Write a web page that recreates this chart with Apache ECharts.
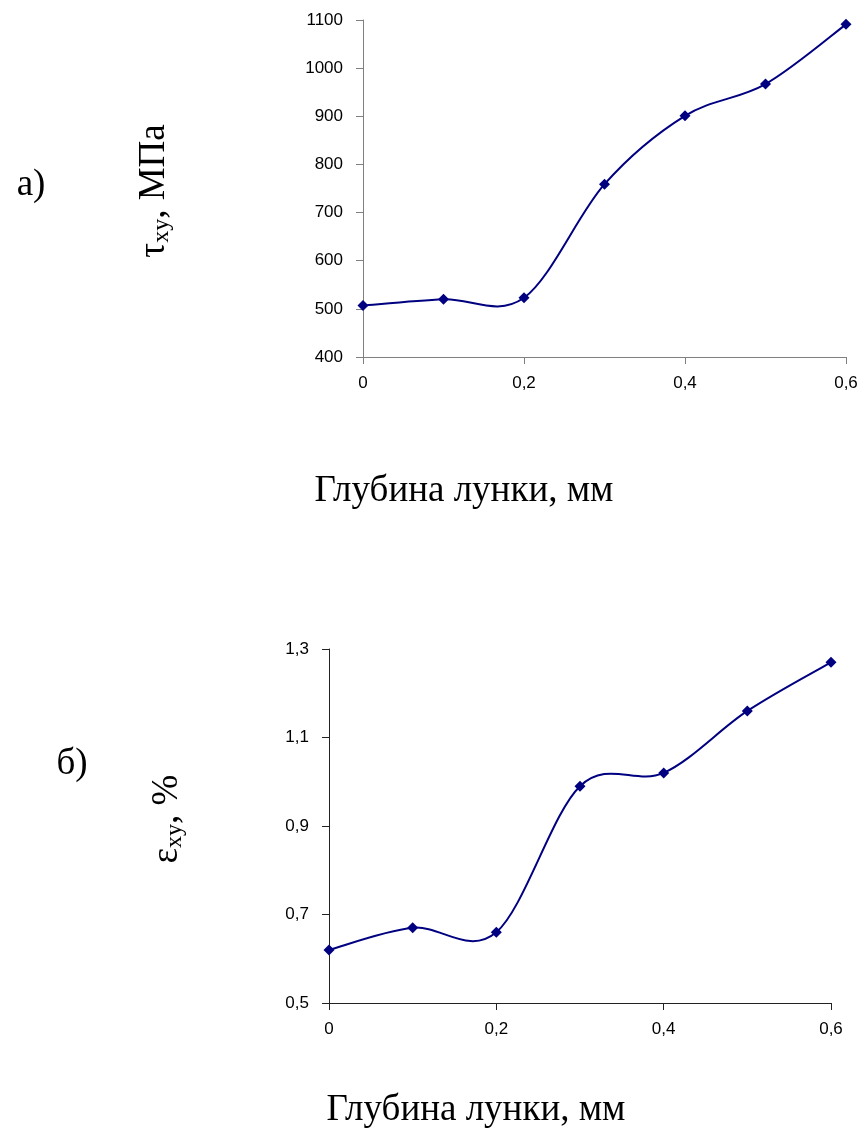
<!DOCTYPE html>
<html>
<head>
<meta charset="utf-8">
<script src="https://cdn.jsdelivr.net/npm/echarts@6/dist/echarts.min.js"></script>
<style>
html,body{margin:0;padding:0;background:#fff;}
#chart{width:865px;height:1129px;}
</style>
</head>
<body>
<div id="chart"></div>
<script>
// Data
var depth = [0, 0.1, 0.2, 0.3, 0.4, 0.5, 0.6];
var tauXY = [507, 520, 523, 759, 901, 967, 1091];
var epsXY = [0.62, 0.67, 0.66, 0.99, 1.02, 1.16, 1.27];
var xTitle = 'Глубина лунки, мм';

function pairs(xs, ys) { return xs.map(function (x, i) { return [x, ys[i]]; }); }
function comma(v) { return String(Math.round(v * 10) / 10).replace('.', ','); }
function plain(v) { return String(v); }

// Excel-like smoothed line (Catmull-Rom Bezier) drawn through the axis scales
function smoothRender(xs, ys) {
  return function (params, api) {
    if (params.dataIndex !== 0) return null;
    var p = xs.map(function (x, i) { return api.coord([x, ys[i]]); });
    var n = p.length, kids = [];
    for (var i = 0; i < n - 1; i++) {
      var p0 = p[Math.max(i - 1, 0)], p1 = p[i], p2 = p[i + 1], p3 = p[Math.min(i + 2, n - 1)];
      kids.push({
        type: 'bezierCurve',
        shape: {
          x1: p1[0], y1: p1[1], x2: p2[0], y2: p2[1],
          cpx1: p1[0] + (p2[0] - p0[0]) / 6, cpy1: p1[1] + (p2[1] - p0[1]) / 6,
          cpx2: p2[0] - (p3[0] - p1[0]) / 6, cpy2: p2[1] - (p3[1] - p1[1]) / 6
        },
        style: {stroke: '#000080', lineWidth: 2, fill: null}
      });
    }
    return {type: 'group', children: kids};
  };
}

var chart = echarts.init(document.getElementById('chart'));
var tickFont = {color: '#000', fontFamily: 'Liberation Sans', fontSize: 17};
var serif = 'Liberation Serif';
var big = 37;

chart.setOption({
  backgroundColor: '#fff',
  animation: false,
  grid: [
    {left: 363, top: 20, width: 483, height: 337},
    {left: 329, top: 649, width: 502, height: 354}
  ],
  xAxis: [
    {gridIndex: 0, type: 'value', min: 0, max: 0.6, interval: 0.2,
     axisLine: {lineStyle: {color: '#808080', width: 1}},
     axisTick: {show: true, length: 7, lineStyle: {color: '#808080'}},
     splitLine: {show: false},
     axisLabel: Object.assign({margin: 18, formatter: comma}, tickFont)},
    {gridIndex: 1, type: 'value', min: 0, max: 0.6, interval: 0.2,
     axisLine: {lineStyle: {color: '#222', width: 1}},
     axisTick: {show: true, length: 7, lineStyle: {color: '#222'}},
     splitLine: {show: false},
     axisLabel: Object.assign({margin: 18, formatter: comma}, tickFont)}
  ],
  yAxis: [
    {gridIndex: 0, type: 'value', min: 400, max: 1100, interval: 100,
     axisLine: {show: true, lineStyle: {color: '#808080', width: 1}},
     axisTick: {show: true, length: 7, lineStyle: {color: '#808080'}},
     splitLine: {show: false},
     axisLabel: Object.assign({margin: 20, formatter: plain}, tickFont)},
    {gridIndex: 1, type: 'value', min: 0.5, max: 1.3, interval: 0.2,
     axisLine: {show: true, lineStyle: {color: '#222', width: 1}},
     axisTick: {show: true, length: 7, lineStyle: {color: '#222'}},
     splitLine: {show: false},
     axisLabel: Object.assign({margin: 20, formatter: comma}, tickFont)}
  ],
  series: [
    {type: 'custom', xAxisIndex: 0, yAxisIndex: 0, data: pairs(depth, tauXY),
     renderItem: smoothRender(depth, tauXY), silent: true, z: 2},
    {type: 'scatter', xAxisIndex: 0, yAxisIndex: 0, data: pairs(depth, tauXY),
     symbol: 'diamond', symbolSize: 11, itemStyle: {color: '#000080', opacity: 1}, z: 3},
    {type: 'custom', xAxisIndex: 1, yAxisIndex: 1, data: pairs(depth, epsXY),
     renderItem: smoothRender(depth, epsXY), silent: true, z: 2},
    {type: 'scatter', xAxisIndex: 1, yAxisIndex: 1, data: pairs(depth, epsXY),
     symbol: 'diamond', symbolSize: 11, itemStyle: {color: '#000080', opacity: 1}, z: 3}
  ],
  graphic: [
    {type: 'text', x: 31, y: 185, style: {text: 'а)', fontFamily: serif, fontSize: big, fill: '#000', align: 'center', verticalAlign: 'middle'}},
    {type: 'text', x: 72, y: 764, style: {text: 'б)', fontFamily: serif, fontSize: big, fill: '#000', align: 'center', verticalAlign: 'middle'}},
    {type: 'text', x: 464, y: 491, style: {text: xTitle, fontFamily: serif, fontSize: big, fill: '#000', align: 'center', verticalAlign: 'middle'}},
    {type: 'text', x: 476, y: 1110, style: {text: xTitle, fontFamily: serif, fontSize: big, fill: '#000', align: 'center', verticalAlign: 'middle'}},
    {type: 'text', x: 154, y: 191, rotation: Math.PI / 2,
     style: {text: '{a|τ}{s|xy}{a|, МПа}', align: 'center', verticalAlign: 'middle', fill: '#000',
       rich: {a: {fontFamily: serif, fontSize: big, lineHeight: 40, fill: '#000'},
              s: {fontFamily: serif, fontSize: 24, lineHeight: 24, verticalAlign: 'bottom', fill: '#000'}}}},
    {type: 'text', x: 167, y: 819, rotation: Math.PI / 2,
     style: {text: '{a|ε}{s|xy}{a|, %}', align: 'center', verticalAlign: 'middle', fill: '#000',
       rich: {a: {fontFamily: serif, fontSize: big, lineHeight: 40, fill: '#000'},
              s: {fontFamily: serif, fontSize: 24, lineHeight: 24, verticalAlign: 'bottom', fill: '#000'}}}}
  ]
});
</script>
</body>
</html>
